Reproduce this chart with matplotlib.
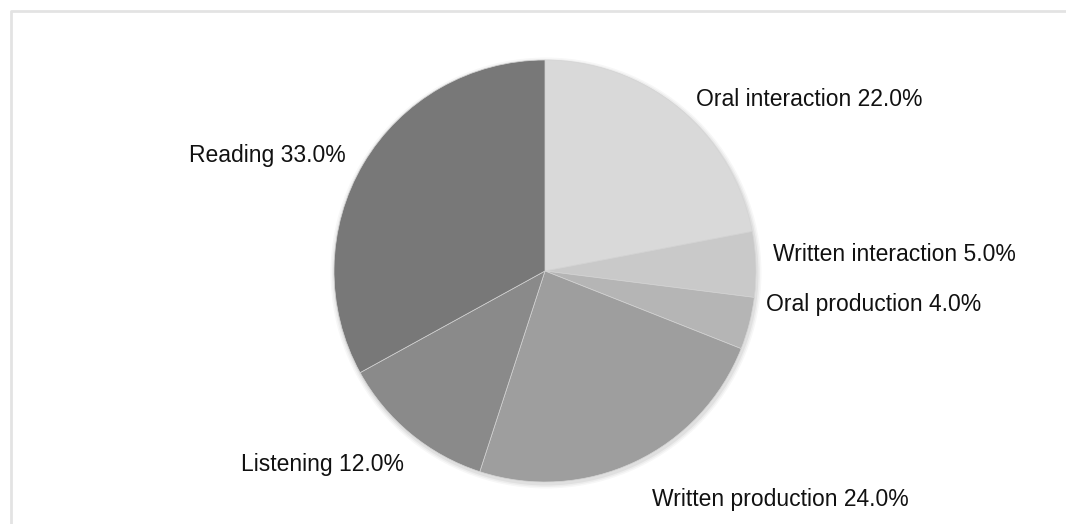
# pie chart of skill shares
import numpy as np
import matplotlib.pyplot as plt

plt.rcParams['font.family'] = ['Liberation Sans', 'DejaVu Sans']

# data
skills = ["Oral interaction", "Written interaction", "Oral production",
          "Written production", "Listening", "Reading"]
shares = [22.0, 5.0, 4.0, 24.0, 12.0, 33.0]
colours = ["#d9d9d9", "#c9c9c9", "#b5b5b5", "#9e9e9e", "#8a8a8a", "#787878"]

# label layout in pixel coords (x, baseline y from top, alignment)
label_pos = [(696, 106, "left"), (773, 261, "left"), (766, 311, "left"),
             (652, 506, "left"), (404, 471, "right"), (346, 162, "right")]

W, H = 1066, 524
fig = plt.figure(figsize=(W / 100, H / 100), dpi=100)
ax = fig.add_axes([0, 0, 1, 1])

# light frame, only top and left visible
ax.plot([11, 11, W], [0, H - 11, H - 11], color="#e3e3e3", lw=2, solid_capstyle="butt")

cx, cy, r = 545, H - 271, 211

# soft shadow
for i, a in enumerate([0.05, 0.04, 0.03]):
    ax.add_patch(plt.Circle((cx + 1, cy - 2), r + 1.5 + i * 1.5, color="black",
                            alpha=a, lw=0, zorder=1))

wedges, _ = ax.pie(shares, colors=colours, startangle=90, counterclock=False,
                   center=(cx, cy), radius=r, frame=True,
                   wedgeprops=dict(linewidth=0.5, edgecolor="#d4d4d4"))
for w in wedges:
    w.set_zorder(2)
ax.set_xlim(0, W)
ax.set_ylim(0, H)
ax.set_aspect("equal")
ax.axis("off")

for name, val, (x, y, ha) in zip(skills, shares, label_pos):
    ax.text(x, H - y, f"{name} {val:.1f}%", ha=ha, va="baseline",
            fontsize=16.5, color="#111111", zorder=3)

fig.savefig("out.png", dpi=100)
